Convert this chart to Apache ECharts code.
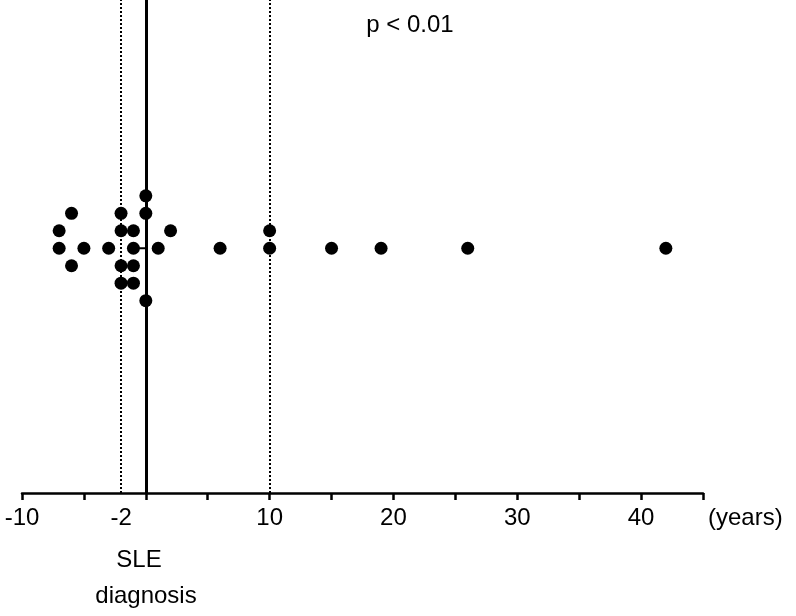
<!DOCTYPE html>
<html>
<head>
<meta charset="utf-8">
<script src="https://cdn.jsdelivr.net/npm/echarts@6/dist/echarts.min.js"></script>
<style>html,body{margin:0;padding:0;background:#fff}#c{width:796px;height:616px}</style>
</head>
<body>
<div id="c"></div>
<script>
// Years relative to SLE diagnosis, and stacking level (row) of each dot
const years  = [-7, -7, -6, -6, -5, -3, -2, -2, -2, -2, -1, -1, -1, -1, 0, 0, 0, 1, 2, 6, 10, 10, 15, 19, 26, 42];
const levels = [ 1,  0,  2, -1,  0,  0,  2,  1, -1, -2,  1,  0, -1, -2, 3, 2, -3, 0, 1, 0,  1,  0,  0,  0,  0,  0];
const tickValues  = [-10, -5, 0, 5, 10, 15, 20, 25, 30, 35, 40, 45];
const labelValues = [-10, -2, 10, 20, 30, 40];
const dashedLines = [-2, 10];
const solidLines  = [0];
const medianSeg   = [[-1, 0], [0, 0]];

const points = years.map((y, i) => [y, levels[i]]);
const font = '"Liberation Sans", Arial, sans-serif';
const fs = 24;

const chart = echarts.init(document.getElementById('c'), null, {renderer: 'canvas'});
chart.setOption({
  animation: false,
  backgroundColor: '#fff',
  grid: {left: 22, right: 93, top: 0, bottom: 123, containLabel: false},
  xAxis: {
    type: 'value', min: -10, max: 45, interval: 5,
    splitLine: {show: false},
    axisLine: {show: true, onZero: false, lineStyle: {color: '#000', width: 2.5}},
    axisTick: {show: true, customValues: tickValues, length: 7, lineStyle: {color: '#000', width: 2.5}},
    axisLabel: {show: true, customValues: labelValues, margin: 13, color: '#000', fontSize: fs, fontFamily: font}
  },
  yAxis: {
    type: 'value', min: -14, max: 14.2, show: false,
    splitLine: {show: false}
  },
  series: [
    {
      type: 'scatter', data: points, symbolSize: 13,
      itemStyle: {color: '#000', opacity: 1}, z: 5,
      markLine: {
        silent: true, symbol: ['none', 'none'], label: {show: false},
        data: [
          ...dashedLines.map(v => ({xAxis: v, lineStyle: {type: [2, 2], width: 2, color: '#000'}})),
          ...solidLines.map(v => ({xAxis: v, lineStyle: {type: 'solid', width: 3, color: '#000'}}))
        ]
      }
    },
    {
      type: 'line', data: medianSeg, symbol: 'none', z: 3,
      lineStyle: {color: '#000', width: 2}
    }
  ],
  graphic: [
    {type: 'text', x: 708, y: 518, style: {text: '(years)', fontSize: fs, fontFamily: font, fill: '#000', textVerticalAlign: 'middle'}},
    {type: 'text', x: 410, y: 25, style: {text: 'p < 0.01', fontSize: fs, fontFamily: font, fill: '#000', textAlign: 'center', textVerticalAlign: 'middle'}},
    {type: 'text', x: 139, y: 560, style: {text: 'SLE', fontSize: fs, fontFamily: font, fill: '#000', textAlign: 'center', textVerticalAlign: 'middle'}},
    {type: 'text', x: 146, y: 596, style: {text: 'diagnosis', fontSize: fs, fontFamily: font, fill: '#000', textAlign: 'center', textVerticalAlign: 'middle'}}
  ]
});
</script>
</body>
</html>
